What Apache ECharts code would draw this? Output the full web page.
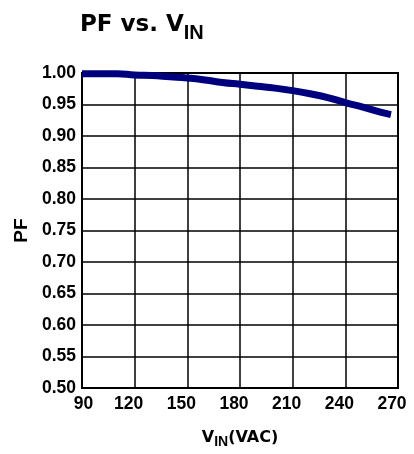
<!DOCTYPE html>
<html><head><meta charset="utf-8">
<script src="https://cdn.jsdelivr.net/npm/echarts@6/dist/echarts.min.js"></script>
<style>html,body{margin:0;padding:0;background:#fff}#c{width:414px;height:454px}</style>
</head><body><div id="c"></div>
<script>
const vin = [90, 100, 110, 120, 130, 140, 150, 160, 170, 180, 190, 200, 210, 220, 230, 240, 250, 260, 266];
const pf = [0.999, 0.999, 0.999, 0.997, 0.996, 0.994, 0.992, 0.989, 0.985, 0.982, 0.979, 0.976, 0.972, 0.967, 0.961, 0.953, 0.946, 0.938, 0.934];
const xTicks = [90, 120, 150, 180, 210, 240, 270];
const yTicks = [0.50, 0.55, 0.60, 0.65, 0.70, 0.75, 0.80, 0.85, 0.90, 0.95, 1.00];

const chart = echarts.init(document.getElementById('c'));
const D = 'DejaVu Sans';
const L = 'Liberation Sans';
chart.setOption({
  animation: false,
  title: {
    text: '{a|PF vs. V}{b|IN}',
    left: 75, top: 3,
    textStyle: {
      rich: {
        a: {fontFamily: D, fontSize: 23, fontWeight: 'bold', color: '#000'},
        b: {fontFamily: L, fontSize: 20, fontWeight: 'bold', color: '#000', padding: [15, 0, 0, 0]}
      }
    }
  },
  grid: {left: 82, right: 16, top: 73, bottom: 63, show: true, borderColor: '#000', borderWidth: 2},
  xAxis: {
    type: 'value', min: xTicks[0], max: xTicks[xTicks.length - 1], interval: 30,
    name: '{a|V}{b|IN}{a|(VAC)}', nameLocation: 'middle', nameGap: 38,
    nameTextStyle: {
      rich: {
        a: {fontFamily: D, fontSize: 16, fontWeight: 'bold', color: '#000'},
        b: {fontFamily: L, fontSize: 14, fontWeight: 'bold', color: '#000', padding: [9, 0, 0, 0]}
      }
    },
    axisLine: {lineStyle: {color: '#000', width: 2}},
    axisTick: {show: false},
    splitLine: {lineStyle: {color: '#000', width: 1.5}},
    axisLabel: {
      fontFamily: L, fontSize: 17.5, fontWeight: 'bold', color: '#000', margin: 7,
      formatter: (v, i) => (i === 0 ? '{f|' : '{n|') + v + '}',
      rich: {
        f: {fontFamily: L, fontSize: 17.5, fontWeight: 'bold', color: '#000', padding: [0, 0, 0, 3]},
        n: {fontFamily: L, fontSize: 17.5, fontWeight: 'bold', color: '#000', padding: [0, 12, 0, 0]}
      }
    }
  },
  yAxis: {
    type: 'value', min: yTicks[0], max: yTicks[yTicks.length - 1], interval: 0.05,
    name: 'PF', nameLocation: 'middle', nameGap: 51, nameRotate: 90,
    nameTextStyle: {fontFamily: L, fontSize: 19, fontWeight: 'bold', color: '#000'},
    axisLine: {show: true, lineStyle: {color: '#000', width: 2}},
    axisTick: {show: false},
    splitLine: {lineStyle: {color: '#000', width: 1.5}},
    axisLabel: {fontFamily: L, fontSize: 17.5, fontWeight: 'bold', color: '#000', margin: 6,
      formatter: v => v.toFixed(2)}
  },
  series: [{
    type: 'line', data: vin.map((x, i) => [x, pf[i]]), smooth: true, showSymbol: false,
    lineStyle: {color: '#00007f', width: 7}
  }]
});
</script></body></html>
